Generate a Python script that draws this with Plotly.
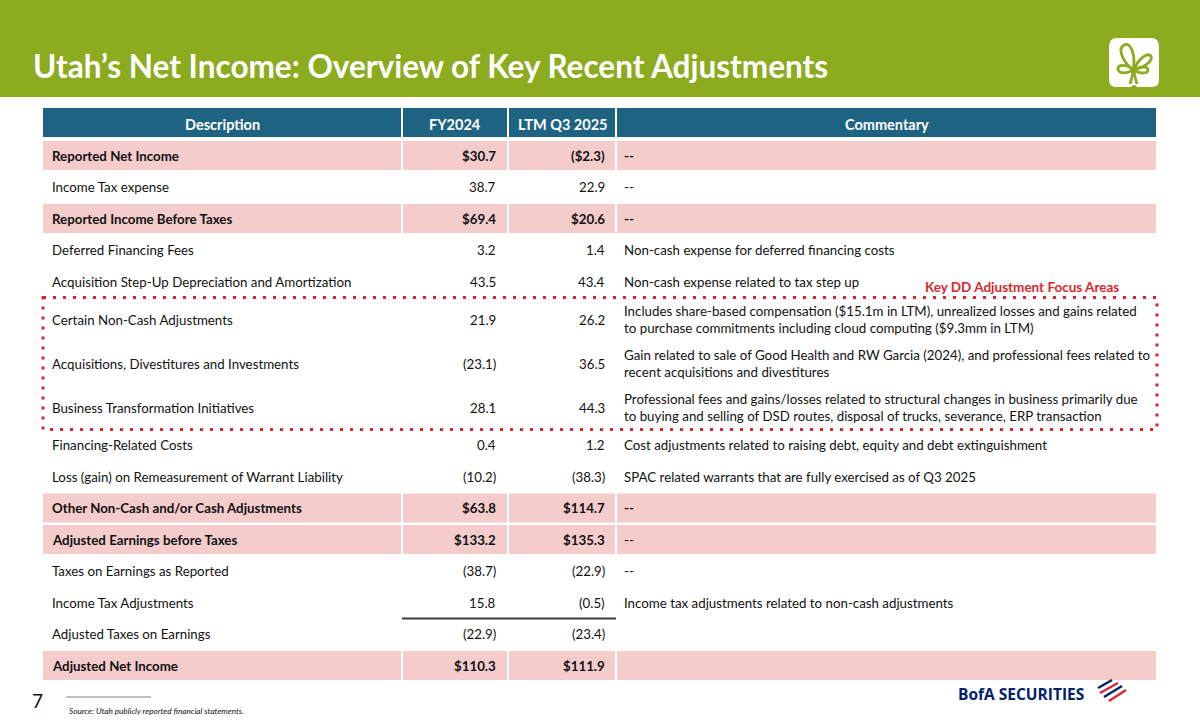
import plotly.graph_objects as go

# table content
headers = ["Description", "FY2024", "LTM Q3 2025", "Commentary"]

descriptions = [
    "Reported Net Income",
    "Income Tax expense",
    "Reported Income Before Taxes",
    "Deferred Financing Fees",
    "Acquisition Step-Up Depreciation and Amortization",
    "Certain Non-Cash Adjustments",
    "Acquisitions, Divestitures and Investments",
    "Business Transformation Initiatives",
    "Financing-Related Costs",
    "Loss (gain) on Remeasurement of Warrant Liability",
    "Other Non-Cash and/or Cash Adjustments",
    "Adjusted Earnings before Taxes",
    "Taxes on Earnings as Reported",
    "Income Tax Adjustments",
    "Adjusted Taxes on Earnings",
    "Adjusted Net Income",
]
fy2024 = ["$30.7", "38.7", "$69.4", "3.2", "43.5", "21.9", "(23.1)", "28.1",
          "0.4", "(10.2)", "$63.8", "$133.2", "(38.7)", "15.8", "(22.9)", "$110.3"]
ltm_q3_2025 = ["($2.3)", "22.9", "$20.6", "1.4", "43.4", "26.2", "36.5", "44.3",
               "1.2", "(38.3)", "$114.7", "$135.3", "(22.9)", "(0.5)", "(23.4)", "$111.9"]
commentary = [
    "--",
    "--",
    "--",
    "Non-cash expense for deferred financing costs",
    "Non-cash expense related to tax step up",
    "Includes share-based compensation ($15.1m in LTM), unrealized losses and gains related<br>"
    "to purchase commitments including cloud computing ($9.3mm in LTM)",
    "Gain related to sale of Good Health and RW Garcia (2024), and professional fees related to<br>"
    "recent acquisitions and divestitures",
    "Professional fees and gains/losses related to structural changes in business primarily due<br>"
    "to buying and selling of DSD routes, disposal of trucks, severance, ERP transaction",
    "Cost adjustments related to raising debt, equity and debt extinguishment",
    "SPAC related warrants that are fully exercised as of Q3 2025",
    "--",
    "--",
    "--",
    "Income tax adjustments related to non-cash adjustments",
    "",
    "",
]
highlight_rows = [0, 2, 10, 11, 15]
focus_rows = [5, 6, 7]
underline_row = 13

title = "Utah’s Net Income: Overview of Key Recent Adjustments"
focus_label = "Key DD Adjustment Focus Areas"
source_note = "Source: Utah publicly reported financial statements."
page_no = "7"

# layout constants (pixels)
W, H = 1200, 728
GREEN = "#8CAB1F"
TEAL = "#1F6383"
PINK = "#F4CCCC"
RED = "#D9262B"
NAVY = "#012169"
TXT = "#111111"
FONT = "Lato"
BODY = 13.3
col_x = [43, 402, 508, 616, 1157]
row_top0 = 140
heights = [44 if "<br>" in c else 31.5 for c in commentary]

shapes = []
ann = []


def rect(x0, y0, x1, y1, color):
    shapes.append(dict(type="rect", x0=x0, y0=y0, x1=x1, y1=y1, fillcolor=color,
                       line=dict(width=0), layer="below"))


def text(x, y, s, size=BODY, color=TXT, bold=False, anchor="left", italic=False, font=FONT):
    if bold:
        s = "<b>" + s + "</b>"
    if italic:
        s = "<i>" + s + "</i>"
    ann.append(dict(x=x, y=y, text=s, showarrow=False, xanchor=anchor, yanchor="middle",
                    align="left", font=dict(family=font, size=size, color=color)))


# banner
rect(0, 0, W, 97, GREEN)
text(31, 66, title, size=31.5, color="white", bold=True)

# header row
for i, h in enumerate(headers):
    rect(col_x[i] + (1 if i else 0), 108, col_x[i + 1] - 1, 137, TEAL)
    text((col_x[i] + col_x[i + 1]) / 2, 124, h, size=14.5, color="white", bold=True, anchor="center")

# body rows
y = row_top0
row_tops = []
for r in range(len(descriptions)):
    h = heights[r]
    row_tops.append(y)
    yc = y + h / 2
    bold = r in highlight_rows
    if bold:
        for i in range(4):
            rect(col_x[i] + (1 if i else 0), y + 1, col_x[i + 1] - 1, y + h - 1.5, PINK)
    text(col_x[0] + 7, yc, descriptions[r], bold=bold)
    text(col_x[2] - 10, yc, fy2024[r], bold=bold, anchor="right")
    text(col_x[3] - 9, yc, ltm_q3_2025[r], bold=bold, anchor="right")
    text(col_x[3] + 6, yc, commentary[r], bold=bold and r != 11)
    y += h

# underline under income tax adjustments
uy = row_tops[underline_row] + heights[underline_row]
shapes.append(dict(type="line", x0=col_x[1], x1=col_x[3], y0=uy, y1=uy,
                   line=dict(color="#404040", width=2)))

# dotted focus box
fy0 = row_tops[focus_rows[0]]
fy1 = row_tops[focus_rows[-1]] + heights[focus_rows[-1]]
shapes.append(dict(type="rect", x0=col_x[0], x1=col_x[-1], y0=fy0, y1=fy1,
                   line=dict(color=RED, width=3, dash="3px,7px")))
text(1022, fy0 - 11, focus_label, size=13.5, color=RED, bold=True, anchor="center")

# footer
text(30, 700, page_no, size=19, color=TXT)
shapes.append(dict(type="line", x0=66, x1=151, y0=697, y1=697, line=dict(color="#808080", width=1)))
text(67, 711, source_note, size=8.2, color=TXT, italic=True)

# BofA mark
ann.append(dict(x=1086, y=694, text="<b>BofA SECURITIES</b>", showarrow=False, xanchor="right",
                yanchor="middle", font=dict(family="Open Sans", size=15.5, color=NAVY)))
stripes = [(1098, 688, 1112, 680, NAVY), (1100, 693, 1118, 683, RED),
           (1104, 697, 1122, 686, NAVY), (1109, 701, 1126, 690, RED)]
for x0, y0, x1, y1, c in stripes:
    shapes.append(dict(type="line", x0=x0, y0=y0, x1=x1, y1=y1, line=dict(color=c, width=2.5)))

# Utah logo
shapes.append(dict(type="path", fillcolor="white", line=dict(width=0),
                   path="M 1117 38 L 1151 38 Q 1159 38 1159 47 L 1159 80 Q 1159 87 1152 87 "
                        "L 1137 87 Q 1134 83 1131 87 L 1116 87 Q 1109 87 1109 80 L 1109 47 "
                        "Q 1109 38 1117 38 Z"))
leaf = dict(color=GREEN, width=2.8)
shapes.append(dict(type="path", line=leaf,
                   path="M 1133 70 C 1123 62 1117 49 1124 45 C 1131 41 1136 56 1133 70"))
shapes.append(dict(type="path", line=leaf,
                   path="M 1134 70 C 1138 59 1147 52 1151 56 C 1153 61 1145 67 1134 70"))
shapes.append(dict(type="path", line=leaf,
                   path="M 1133 70 C 1128 64 1117 64 1118 69 C 1119 75 1129 73 1133 70"))
shapes.append(dict(type="path", line=leaf,
                   path="M 1134 70 C 1139 74 1148 74 1148 70 C 1147 65 1139 67 1134 70"))
shapes.append(dict(type="path", line=leaf,
                   path="M 1133 70 C 1133 76 1131 80 1130 84"))
shapes.append(dict(type="path", line=leaf,
                   path="M 1134 70 C 1134 76 1136 80 1137 84"))

fig = go.Figure()
fig.update_layout(
    width=W, height=H,
    margin=dict(l=0, r=0, t=0, b=0),
    paper_bgcolor="white", plot_bgcolor="white",
    xaxis=dict(range=[0, W], visible=False, fixedrange=True),
    yaxis=dict(range=[H, 0], visible=False, fixedrange=True),
    shapes=shapes, annotations=ann, showlegend=False,
)
# drop the browser's default page margin so the slide sits at 0,0
fig.write_html("out.html", config={"displayModeBar": False},
               post_script="document.body.style.margin='0px';")
